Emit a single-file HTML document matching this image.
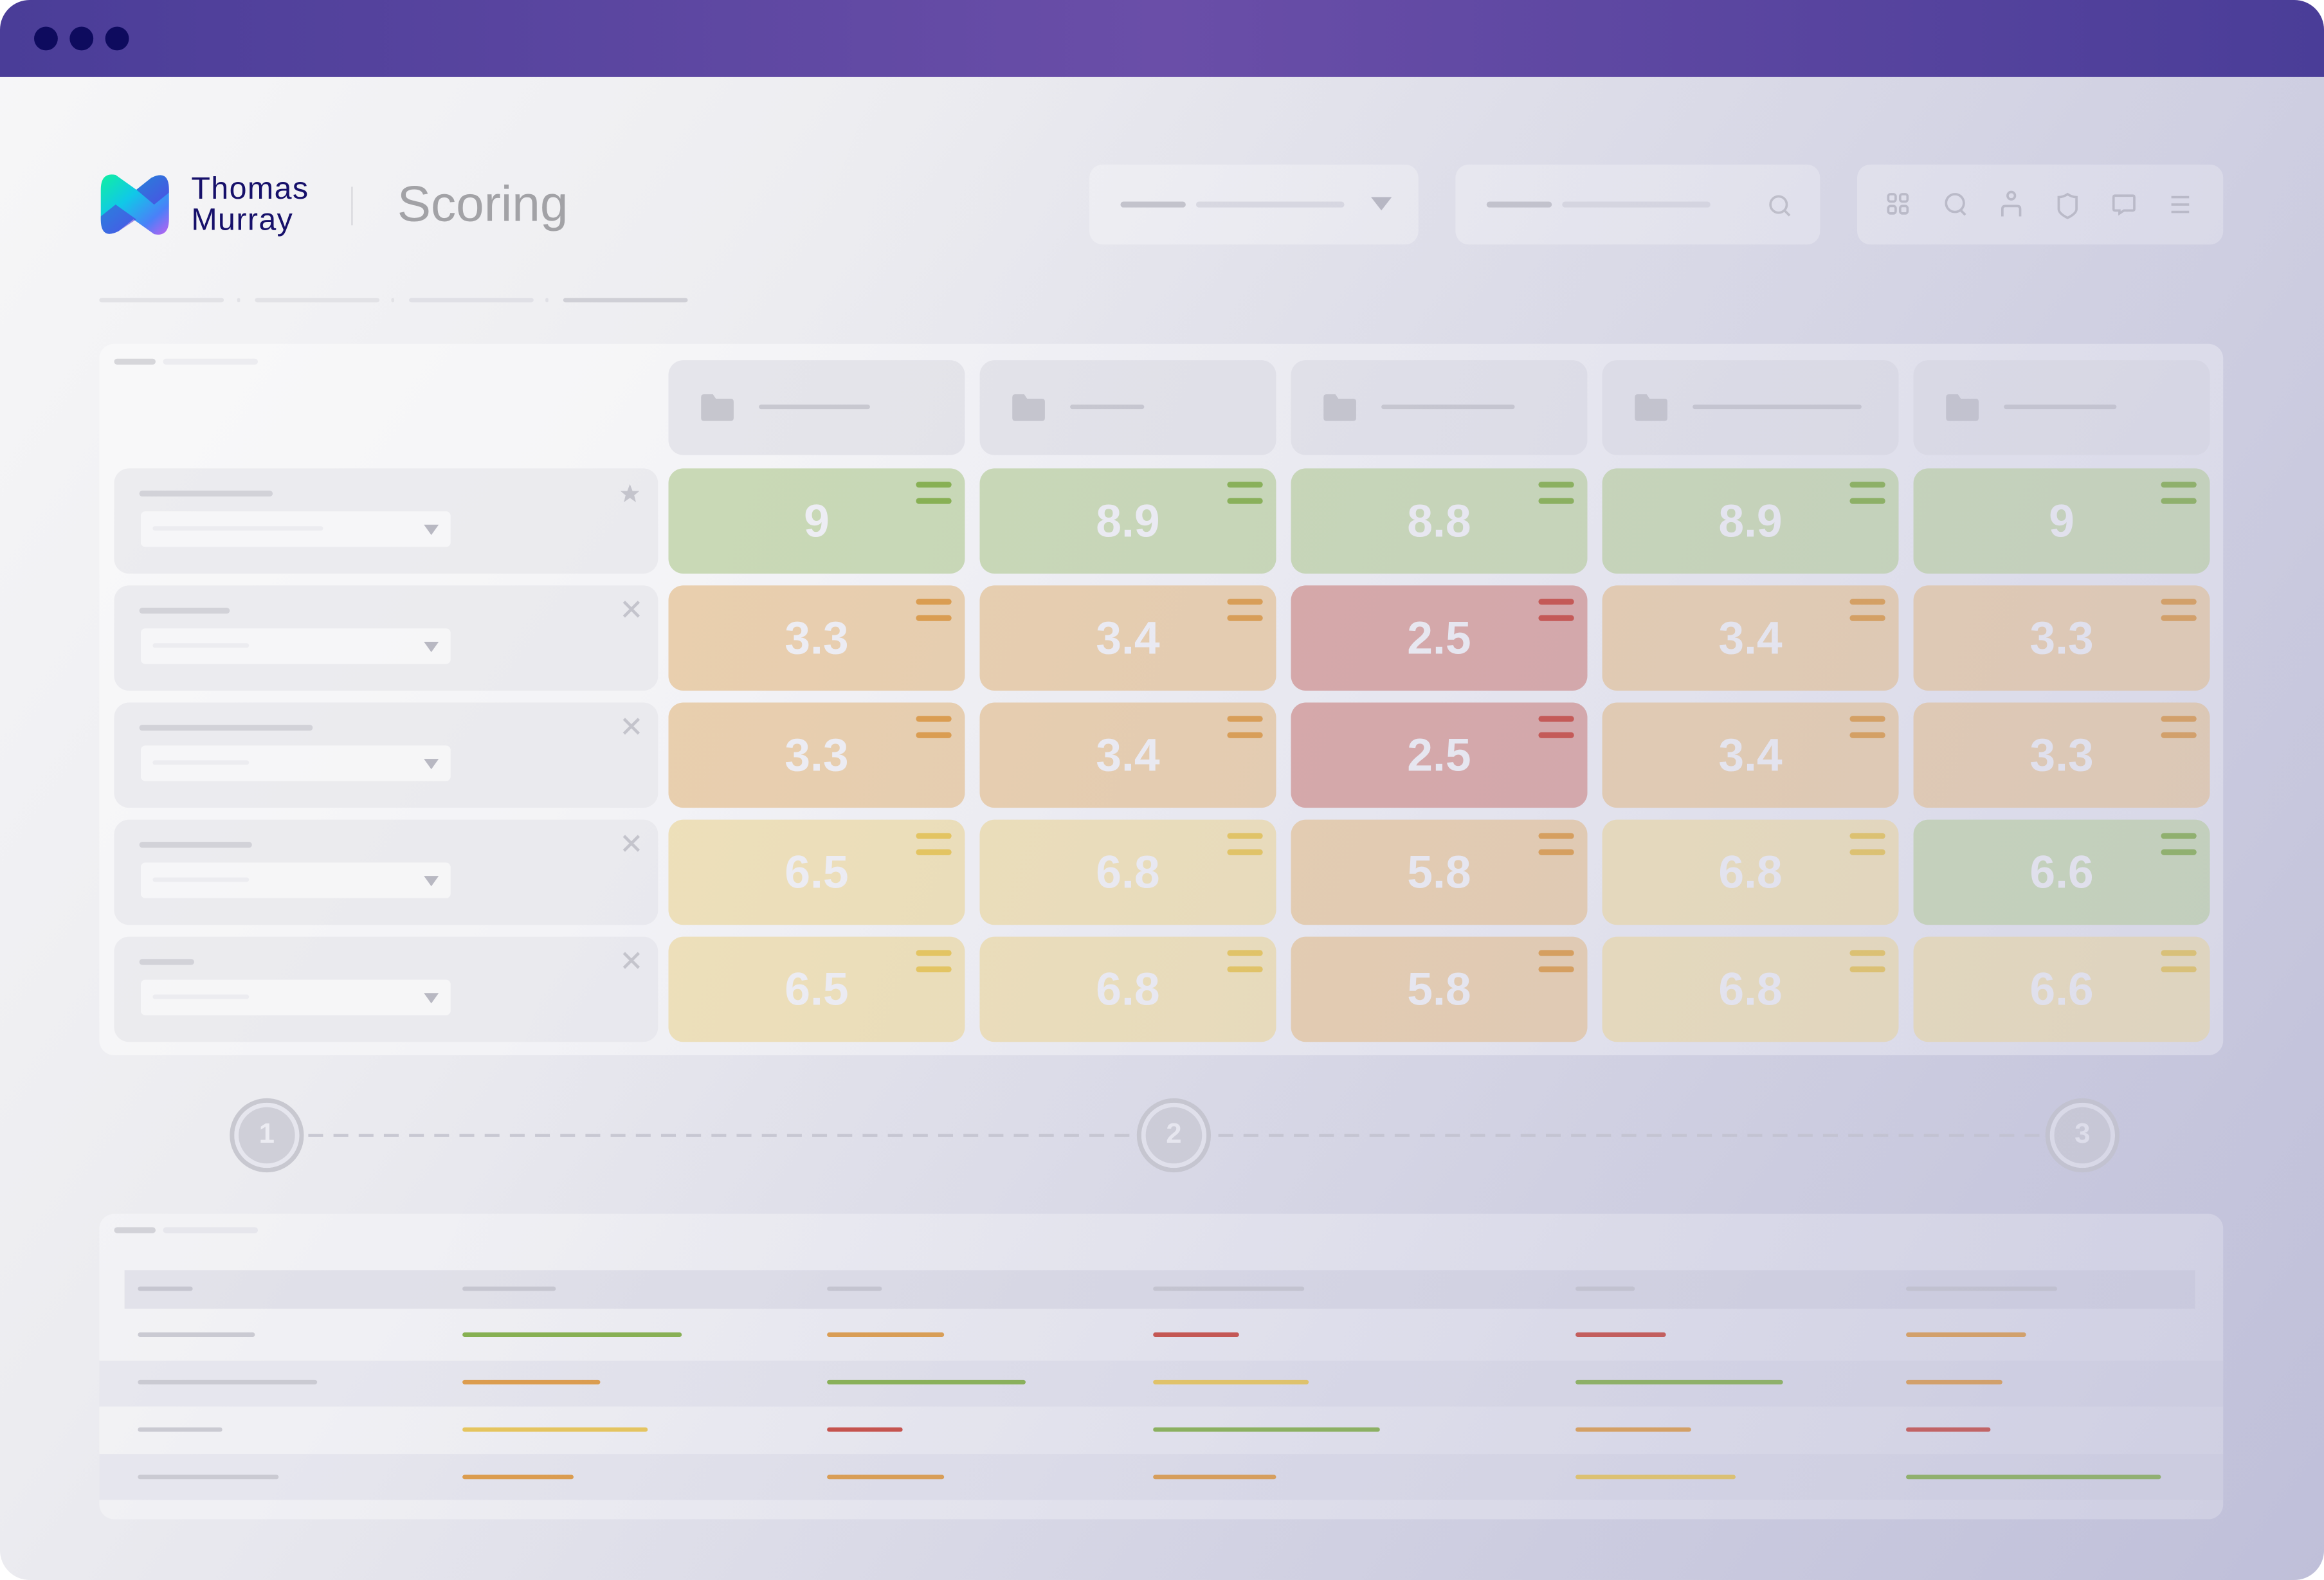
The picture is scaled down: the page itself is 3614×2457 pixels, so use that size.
<!DOCTYPE html>
<html><head><meta charset="utf-8">
<style>
html,body{margin:0;padding:0;width:3614px;height:2456px;overflow:hidden;background:#fff;}
#stage{position:absolute;left:0;top:0;width:1568px;height:1066px;transform:scale(2.30485);transform-origin:0 0;font-family:"Liberation Sans",sans-serif;}
.win{position:absolute;left:0;top:0;width:1568px;height:1066px;border-radius:20px;overflow:hidden;background:linear-gradient(125deg,#f7f7f8 0%,#ececf0 30%,#dcdce8 60%,#c6c6dc 100%);}
.title{position:absolute;left:0;top:0;width:1568px;height:52px;background:linear-gradient(90deg,#4a3d98 0%,#6a4ea8 50%,#4a3d98 100%);}
.dot{position:absolute;top:18px;width:16px;height:16px;border-radius:50%;background:#0e0b5e;}
.abs{position:absolute;}
.bar{position:absolute;height:4px;border-radius:2px;}
.box{position:absolute;border-radius:9px;background:rgba(255,255,255,0.35);}
.cell{position:absolute;border-radius:10px;}
.cell span{position:absolute;left:0;right:0;top:0;bottom:0;display:flex;align-items:center;justify-content:center;font-size:31px;font-weight:bold;color:#eeeef4;}
.cell i{position:absolute;right:9px;width:24px;height:4px;border-radius:2px;}
.card{position:absolute;left:77px;width:367px;height:71px;border-radius:10px;background:rgba(225,225,232,0.55);}
.dd{position:absolute;left:18px;top:29px;width:209px;height:24px;border-radius:3px;background:rgba(255,255,255,0.55);}
.tri{position:absolute;right:8px;top:9px;width:0;height:0;border-left:5px solid transparent;border-right:5px solid transparent;border-top:7px solid #b8b8c2;}
.circ{position:absolute;width:44px;height:44px;border-radius:50%;border:3px solid #c8c8d0;background:#cfcfd8;box-shadow:inset 0 0 0 3px #e6e6ee;color:#ececf2;font-size:19px;font-weight:bold;display:flex;align-items:center;justify-content:center;}
.wash{position:absolute;left:0;top:52px;width:1568px;height:1014px;pointer-events:none;background:linear-gradient(110deg,rgba(255,255,255,0) 30%,rgba(175,175,210,0.3) 100%);}
</style></head><body>
<div id="stage">
<div class="win">
  <div class="title">
    <div class="dot" style="left:23px"></div>
    <div class="dot" style="left:47px"></div>
    <div class="dot" style="left:71px"></div>
  </div>

  <svg class="abs" style="left:66px;top:116px" width="50" height="44" viewBox="0 0 50 44">
    <defs><linearGradient id="lg" x1="0" y1="0" x2="1" y2="1"><stop offset="0" stop-color="#10f0a0"/><stop offset="0.4" stop-color="#10c8e8"/><stop offset="0.75" stop-color="#4a80f8"/><stop offset="1" stop-color="#c060f0"/></linearGradient></defs>
    <path d="M2 12 Q2 0 12 2 L26 12 L36 4 Q48 -2 48 12 L48 32 Q48 44 38 42 L24 32 L14 40 Q2 46 2 32 Z" fill="url(#lg)"/>
    <path d="M2 30 L12 22 L26 32 L14 40 Q2 46 2 32Z" fill="#5030d8" opacity="0.55"/>
    <path d="M48 14 L38 22 L26 12 L36 4 Q48 -2 48 12Z" fill="#5020d0" opacity="0.5"/>
  </svg>
  <div class="abs" style="left:129px;top:117px;font-size:21px;line-height:21px;letter-spacing:0.6px;color:#16106a;">Thomas<br>Murray</div>
  <div class="abs" style="left:237px;top:126px;width:1px;height:26px;background:#d8d8dc"></div>
  <div class="abs" style="left:268px;top:119px;font-size:34px;color:#a2a2a6;">Scoring</div>

  <div class="box" style="left:735px;top:111px;width:222px;height:54px">
    <div class="bar" style="left:21px;top:25px;width:44px;background:#c4c4cc"></div>
    <div class="bar" style="left:72px;top:25px;width:100px;background:#dadae2"></div>
    <div class="tri" style="right:18px;top:22px;border-left-width:7px;border-right-width:7px;border-top-width:9px;"></div>
  </div>
  <div class="box" style="left:982px;top:111px;width:246px;height:54px">
    <div class="bar" style="left:21px;top:25px;width:44px;background:#c4c4cc"></div>
    <div class="bar" style="left:72px;top:25px;width:100px;background:#dadae2"></div>
    <svg class="abs" style="left:211px;top:20px" width="16" height="16" viewBox="0 0 16 16"><circle cx="7" cy="7" r="5.5" fill="none" stroke="#c0c0c8" stroke-width="1.6"/><line x1="11" y1="11" x2="14.5" y2="14.5" stroke="#c0c0c8" stroke-width="1.6"/></svg>
  </div>
  <div class="box" style="left:1253px;top:111px;width:247px;height:54px">
    <svg class="abs" style="left:0;top:0" width="247" height="54" viewBox="0 0 247 54" fill="none" stroke="#bcbcc6" stroke-width="1.6">
      <rect x="21" y="20" width="5" height="5" rx="1.5"/><rect x="29" y="20" width="5" height="5" rx="1.5"/><rect x="21" y="28" width="5" height="5" rx="1.5"/><rect x="29" y="28" width="5" height="5" rx="1.5"/>
      <circle cx="66" cy="26" r="6"/><line x1="70" y1="31" x2="73" y2="34"/>
      <circle cx="104" cy="21" r="2.5"/><path d="M98 35 V30 Q98 28 100 28 H108 Q110 28 110 30 V35"/>
      <path d="M136 22 Q139 22 142 20 Q145 22 148 22 V30 Q148 33 142 36 Q136 33 136 30Z"/>
      <path d="M174 21 H186 Q187 21 187 22 V30 Q187 31 186 31 H180 L177 33 V31 H174 Q173 31 173 30 V22 Q173 21 174 21Z"/>
      <line x1="212" y1="22" x2="224" y2="22"/><line x1="212" y1="27" x2="224" y2="27"/><line x1="212" y1="32" x2="224" y2="32"/>
    </svg>
  </div>

  <div>
    <div class="bar" style="left:67px;top:201px;width:84px;height:3px;background:#e2e2e6"></div>
    <div class="bar" style="left:160px;top:201px;width:2px;height:3px;background:#e2e2e6"></div>
    <div class="bar" style="left:172px;top:201px;width:84px;height:3px;background:#e2e2e6"></div>
    <div class="bar" style="left:264px;top:201px;width:2px;height:3px;background:#e2e2e6"></div>
    <div class="bar" style="left:276px;top:201px;width:84px;height:3px;background:#e0e0e6"></div>
    <div class="bar" style="left:368px;top:201px;width:2px;height:3px;background:#e0e0e6"></div>
    <div class="bar" style="left:380px;top:201px;width:84px;height:3px;background:#cfcfd6"></div>
  </div>

  <div class="abs" style="left:67px;top:232px;width:1433px;height:480px;border-radius:10px;background:rgba(255,255,255,0.45)">
    <div class="bar" style="left:10px;top:10px;width:28px;height:4px;background:#d6d6da"></div>
    <div class="bar" style="left:43px;top:10px;width:64px;height:4px;background:#ececf0"></div>
  </div>
  <div id="grid"></div>

  <svg class="abs" style="left:0;top:740px" width="1568" height="52">
    <line x1="208" y1="26" x2="764" y2="26" stroke="#c8c8d2" stroke-width="2" stroke-dasharray="10 7"/>
    <line x1="822" y1="26" x2="1378" y2="26" stroke="#c8c8d2" stroke-width="2" stroke-dasharray="10 7"/>
  </svg>
  <div class="circ" style="left:155px;top:741px">1</div>
  <div class="circ" style="left:767px;top:741px">2</div>
  <div class="circ" style="left:1380px;top:741px">3</div>

  <div class="abs" style="left:67px;top:819px;width:1433px;height:206px;border-radius:10px;background:rgba(255,255,255,0.35)">
    <div class="bar" style="left:10px;top:9px;width:28px;height:4px;background:#d2d2d8"></div>
    <div class="bar" style="left:43px;top:9px;width:64px;height:4px;background:#e6e6ec"></div>
    <div class="abs" style="left:17px;top:38px;width:1397px;height:26px;background:rgba(190,190,210,0.3)"></div>
    <div class="abs" style="left:0;top:99px;width:1433px;height:31px;background:rgba(200,200,218,0.25)"></div>
    <div class="abs" style="left:0;top:162px;width:1433px;height:31px;background:rgba(200,200,218,0.25)"></div>
  </div>
  <div id="table"></div>

  <div class="wash"></div>
</div>
</div>
<script>
const rowValues = [
  [9, 8.9, 8.8, 8.9, 9],
  [3.3, 3.4, 2.5, 3.4, 3.3],
  [3.3, 3.4, 2.5, 3.4, 3.3],
  [6.5, 6.8, 5.8, 6.8, 6.6],
  [6.5, 6.8, 5.8, 6.8, 6.6]
];
const rowStatus = [
  ['g','g','g','g','g'],
  ['o','o','r','o','o'],
  ['o','o','r','o','o'],
  ['y','y','o','y','g'],
  ['y','y','o','y','y']
];
const headerWidths = [75, 50, 90, 114, 76];
const rowLabelWidths = [90, 61, 117, 76, 37];
const tableHeaderWidths = [37, 63, 37, 102, 40, 102];
const tableBarWidths = [
  [79,148,79,58,61,81],
  [121,93,134,105,140,65],
  [57,125,51,153,78,57],
  [95,75,79,83,108,172]
];
const tableBarStatus = [
  ['n','g','o','r','r','o'],
  ['n','o','g','y','g','o'],
  ['n','y','r','g','o','r'],
  ['n','o','o','o','y','g']
];
const fills = {g:'#c9d9b6',o:'#e9cfae',r:'#d9a7a5',y:'#eee0b9'};
const marks = {g:'#86b050',o:'#dc9c4c',r:'#c74c44',y:'#e6c55c',n:'#cacad2'};

const colX = i => 451 + i*210;
const rowY = j => 316 + j*79;
const tColX = [93,312,558,778,1063,1286];
const tRowY = j => 899 + j*32;

const grid = document.getElementById('grid');
headerWidths.forEach((w,i)=>{
  const h = document.createElement('div');
  
  
  h.className='cell';
  h.style.cssText=`left:${colX(i)}px;top:243px;width:200px;height:64px;background:rgba(222,222,230,0.7)`;
  h.innerHTML=`<svg style="position:absolute;left:21px;top:22px" width="24" height="20" viewBox="0 0 24 20"><path d="M1 3 Q1 1 3 1 H9 L11 4 H21 Q23 4 23 6 V17 Q23 19 21 19 H3 Q1 19 1 17Z" fill="#c6c6ce"/></svg><div class="bar" style="left:61px;top:30px;width:${w}px;height:3px;background:#c8c8d0"></div>`;
  grid.appendChild(h);
});
rowValues.forEach((row,j)=>{
  const c = document.createElement('div');
  
  
  c.className='card';
  c.style.top=rowY(j)+'px';
  const icon = j===0
    ? `<svg style="position:absolute;left:341px;top:10px" width="14" height="14" viewBox="0 0 24 24"><path d="M12 1 L15 9 L23 9 L17 14 L19 22 L12 17 L5 22 L7 14 L1 9 L9 9Z" fill="#c4c4cc"/></svg>`
    : `<svg style="position:absolute;left:342px;top:9px" width="14" height="14" viewBox="0 0 14 14"><path d="M2 2 L12 12 M12 2 L2 12" stroke="#c4c4cc" stroke-width="2"/></svg>`;
  c.innerHTML=`<div class="bar" style="left:17px;top:15px;width:${rowLabelWidths[j]}px;height:4px;background:#d2d2d8"></div>
    <div class="dd"><div class="bar" style="left:8px;top:10px;width:${j===0?115:65}px;height:3px;background:#ececf0"></div><div class="tri"></div></div>${icon}`;
  grid.appendChild(c);
  row.forEach((v,i)=>{
    const s = rowStatus[j][i];
    const e = document.createElement('div');
    
    
    e.className='cell';
    e.style.cssText=`left:${colX(i)}px;top:${rowY(j)}px;width:200px;height:71px;background:${fills[s]}`;
    e.innerHTML=`<span>${v}</span><i style="top:9px;background:${marks[s]}"></i><i style="top:20px;background:${marks[s]}"></i>`;
    grid.appendChild(e);
  });
});
const table = document.getElementById('table');
tableHeaderWidths.forEach((w,i)=>{
  const b=document.createElement('div');
  
  
  b.className='bar';
  b.style.cssText=`left:${tColX[i]}px;top:868px;width:${w}px;height:3px;background:#c6c6d0`;
  table.appendChild(b);
});
tableBarWidths.forEach((row,j)=>{
  row.forEach((w,i)=>{
    const b=document.createElement('div');
    
    
    b.className='bar';
    b.style.cssText=`left:${tColX[i]}px;top:${tRowY(j)}px;width:${w}px;height:3px;background:${marks[tableBarStatus[j][i]]}`;
    table.appendChild(b);
  });
});
</script>
</body></html>
